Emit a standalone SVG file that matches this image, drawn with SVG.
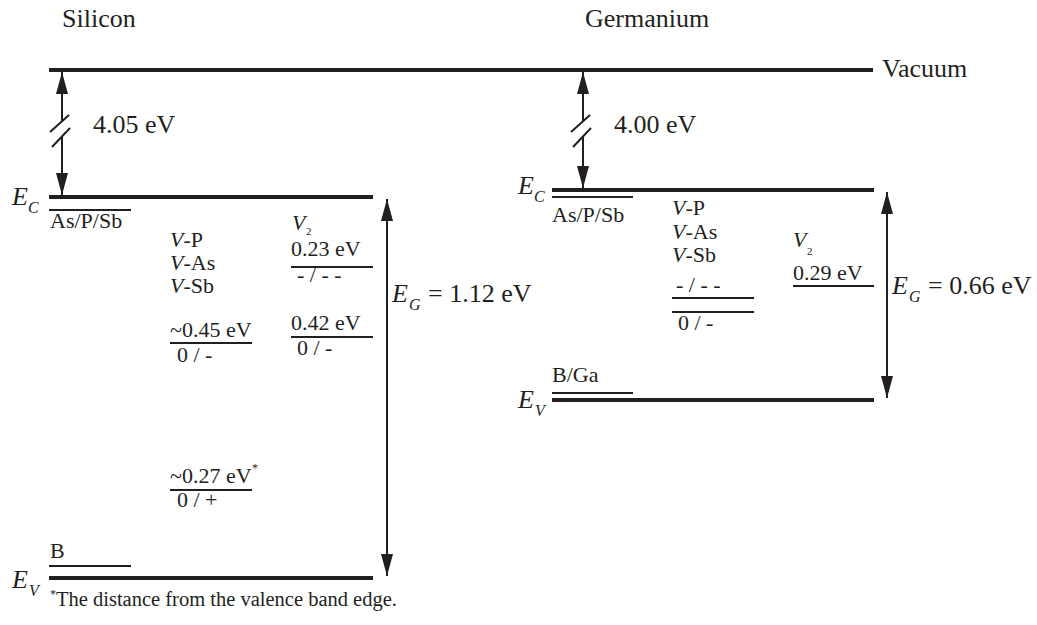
<svg xmlns="http://www.w3.org/2000/svg" width="1037" height="625" viewBox="0 0 1037 625">
<style>
text{font-family:"Liberation Serif","Times New Roman",serif;fill:#231f20}
.t26{font-size:26px}
.t22{font-size:22px}
.i{font-style:italic}
.sub{font-size:16px;font-style:italic}
.sub2{font-size:11px}
.thick{stroke:#231f20;stroke-width:4;fill:none}
.thin{stroke:#231f20;stroke-width:2;fill:none}
.ar{stroke:#231f20;stroke-width:2;fill:none}
</style>
<defs>
<marker id="ah" viewBox="0 0 22 12" refX="22" refY="6" markerWidth="22" markerHeight="12" markerUnits="userSpaceOnUse" orient="auto-start-reverse">
<path d="M0,0 L22,6 L0,12 Z" fill="#231f20"/>
</marker>
</defs>
<rect width="1037" height="625" fill="#fff"/>

<g id="titles">
<text class="t26" x="62" y="27">Silicon</text>
<text class="t26" x="585" y="27">Germanium</text>
</g>

<g id="vacuum">
<line class="thick" x1="49" y1="70" x2="873" y2="70"/>
<text class="t26" x="882" y="77">Vacuum</text>
</g>

<g id="si-ec">
<line class="thick" x1="49" y1="197" x2="373" y2="197"/>
<text class="t26 i" x="12" y="205">E</text><text class="sub" x="28" y="213">C</text>
</g>
<g id="si-ev">
<line class="thick" x1="49" y1="578" x2="373" y2="578"/>
<text class="t26 i" x="12" y="588">E</text><text class="sub" x="29" y="596">V</text>
</g>
<g id="si-donor">
<line class="thin" x1="49" y1="210" x2="131" y2="210"/>
<text class="t22" x="50" y="228">As/P/Sb</text>
</g>
<g id="si-boron">
<line class="thin" x1="49" y1="566" x2="131" y2="566"/>
<text class="t22" x="50" y="558">B</text>
</g>
<g id="si-vp">
<text class="t22" x="170" y="247"><tspan font-style="italic">V</tspan>-P</text>
<text class="t22" x="170" y="270"><tspan font-style="italic">V</tspan>-As</text>
<text class="t22" x="170" y="293"><tspan font-style="italic">V</tspan>-Sb</text>
</g>
<g id="si-045">
<text class="t22" x="170" y="337">~0.45 eV</text>
<line class="thin" x1="170" y1="343" x2="252" y2="343"/>
<text class="t22" x="177" y="362">0 / -</text>
</g>
<g id="si-027">
<text class="t22" x="170" y="483">~0.27 eV</text><text x="252" y="472" font-size="12">*</text>
<line class="thin" x1="170" y1="490" x2="252" y2="490"/>
<text class="t22" x="177" y="507">0 / +</text>
</g>
<g id="si-v2">
<text class="t22 i" x="292" y="230">V</text><text class="sub2" x="306" y="235">2</text>
<text class="t22" x="291" y="256">0.23 eV</text>
<line class="thin" x1="291" y1="267" x2="373" y2="267"/>
<text class="t22" x="297" y="282">- / - -</text>
</g>
<g id="si-042">
<text class="t22" x="291" y="330">0.42 eV</text>
<line class="thin" x1="291" y1="337" x2="373" y2="337"/>
<text class="t22" x="297" y="355">0 / -</text>
</g>
<g id="si-eg">
<text class="t26 i" x="392" y="302">E</text><text class="sub" x="409" y="310">G</text>
<text class="t26" x="428" y="302">= 1.12 eV</text>
</g>
<g id="si-chi">
<text class="t26" x="93" y="133">4.05 eV</text>
</g>

<g id="ge-ec">
<line class="thick" x1="552" y1="190" x2="874" y2="190"/>
<text class="t26 i" x="518" y="194">E</text><text class="sub" x="534" y="202">C</text>
</g>
<g id="ge-ev">
<line class="thick" x1="552" y1="400" x2="874" y2="400"/>
<text class="t26 i" x="518" y="408">E</text><text class="sub" x="535" y="416">V</text>
</g>
<g id="ge-donor">
<line class="thin" x1="552" y1="197" x2="633" y2="197"/>
<text class="t22" x="552" y="222">As/P/Sb</text>
</g>
<g id="ge-acceptor">
<line class="thin" x1="552" y1="393" x2="633" y2="393"/>
<text class="t22" x="552" y="382">B/Ga</text>
</g>
<g id="ge-vp">
<text class="t22" x="672" y="215"><tspan font-style="italic">V</tspan>-P</text>
<text class="t22" x="672" y="239"><tspan font-style="italic">V</tspan>-As</text>
<text class="t22" x="672" y="262"><tspan font-style="italic">V</tspan>-Sb</text>
<text class="t22" x="676" y="292">- / - -</text>
<line class="thin" x1="672" y1="298" x2="754" y2="298"/>
<line class="thin" x1="672" y1="312" x2="754" y2="312"/>
<text class="t22" x="678" y="330">0 / -</text>
</g>
<g id="ge-v2">
<text class="t22 i" x="793" y="247">V</text><text class="sub2" x="807" y="255">2</text>
<text class="t22" x="793" y="280">0.29 eV</text>
<line class="thin" x1="793" y1="286" x2="874" y2="286"/>
</g>
<g id="ge-eg">
<text class="t26 i" x="892" y="294">E</text><text class="sub" x="909" y="302">G</text>
<text class="t26" x="928" y="294">= 0.66 eV</text>
</g>
<g id="ge-chi">
<text class="t26" x="614" y="133">4.00 eV</text>
</g>

<g id="footnote">
<text x="50" y="598" font-size="12">*</text>
<text x="56" y="606" font-size="20.5">The distance from the valence band edge.</text>
</g>

<g id="connectors">
<line class="ar" x1="62" y1="121" x2="62" y2="72" marker-end="url(#ah)"/>
<line class="ar" x1="62" y1="136" x2="62" y2="195" marker-end="url(#ah)"/>
<line class="ar" x1="50" y1="132" x2="69" y2="115"/>
<line class="ar" x1="52" y1="147" x2="70" y2="128"/>
<line class="ar" x1="583" y1="121" x2="583" y2="72" marker-end="url(#ah)"/>
<line class="ar" x1="583" y1="136" x2="583" y2="188" marker-end="url(#ah)"/>
<line class="ar" x1="571" y1="132" x2="590" y2="115"/>
<line class="ar" x1="573" y1="147" x2="591" y2="128"/>
<line class="ar" x1="387" y1="199" x2="387" y2="576" marker-start="url(#ah)" marker-end="url(#ah)"/>
<line class="ar" x1="887" y1="192" x2="887" y2="398" marker-start="url(#ah)" marker-end="url(#ah)"/>
</g>
</svg>
